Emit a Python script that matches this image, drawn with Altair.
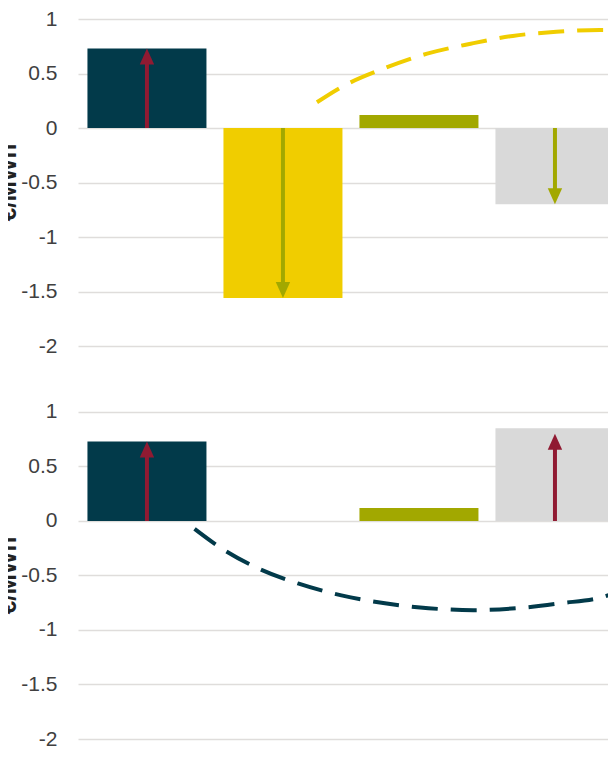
import altair as alt
import pandas as pd

# ---------------- data ----------------
categories = ["A", "B", "C", "D"]
positions = [0, 1, 2, 3]
bar_colors = ["#023a4a", "#f0cd00", "#a2a800", "#d9d9d9"]

top_values = [0.73, -1.56, 0.12, -0.70]
bottom_values = [0.73, 0.0, 0.12, 0.85]

top_arrow_pos = [0, 1, 3]
top_arrow_tip = [0.73, -1.56, -0.70]
top_arrow_color = ["#901a32", "#a2a800", "#a2a800"]

bottom_arrow_pos = [0, 3]
bottom_arrow_tip = [0.73, 0.80]
bottom_arrow_color = ["#901a32", "#901a32"]

top_curve_x = [1.25, 1.44, 1.74, 2.06, 2.38, 2.69, 3.01, 3.33, 3.45]
top_curve_y = [0.236, 0.382, 0.545, 0.682, 0.773, 0.845, 0.882, 0.90, 0.90]

bottom_curve_x = [0.35, 0.54, 0.82, 1.11, 1.43, 1.75, 2.07, 2.40, 2.72, 3.04, 3.37, 3.45]
bottom_curve_y = [-0.073, -0.245, -0.436, -0.573, -0.682, -0.755, -0.80, -0.818, -0.80, -0.755, -0.69, -0.655]

y_ticks = [-2, -1.5, -1, -0.5, 0, 0.5, 1]
y_titles = ["€/MWh", "€/MWh"]

# ---------------- layout (two stacked panels on one shared y scale) ----------------
OFF = 3.6055         # vertical shift of the upper panel, in value units
W, H = 530, 720
xscale = alt.Scale(domain=[-0.507, 3.39], nice=False, zero=False)
yscale = alt.Scale(domain=[-2, 1 + OFF], nice=False, zero=False)

axis_values = y_ticks + [t + OFF for t in y_ticks]

UP = "M0,0 L-0.45,1 L0.45,1 Z"
DOWN = "M0,0 L-0.45,-1 L0.45,-1 Z"

bars_df = pd.DataFrame({
    "cat": categories * 2,
    "pos": positions * 2,
    "value": top_values + bottom_values,
    "color": bar_colors * 2,
    "panel": ["top"] * 4 + ["bottom"] * 4,
})
arrows_df = pd.DataFrame({
    "pos": top_arrow_pos + bottom_arrow_pos,
    "tip": top_arrow_tip + bottom_arrow_tip,
    "color": top_arrow_color + bottom_arrow_color,
    "panel": ["top"] * len(top_arrow_pos) + ["bottom"] * len(bottom_arrow_pos),
})
top_curve_df = pd.DataFrame({"x": top_curve_x, "y": top_curve_y, "panel": "top"})
bottom_curve_df = pd.DataFrame({"x": bottom_curve_x, "y": bottom_curve_y, "panel": "bottom"})
titles_df = pd.DataFrame({"t": y_titles, "y": [-0.5, -0.5], "panel": ["top", "bottom"]})

shift = f"(datum.panel == 'top' ? {OFF} : 0)"

bars = (
    alt.Chart(bars_df)
    .transform_calculate(
        x0="datum.pos - 0.4375",
        x1="datum.pos + 0.4375",
        yv=f"datum.value + {shift}",
        base=shift,
    )
    .mark_rect(clip=True)
    .encode(
        x=alt.X("x0:Q", scale=xscale, axis=None),
        x2="x1:Q",
        y=alt.Y(
            "yv:Q",
            scale=yscale,
            axis=alt.Axis(
                values=axis_values,
                labelExpr=f"(datum.value > 1.3 ? round((datum.value - {OFF}) * 10) / 10 : datum.value) + ''",
                title=None,
            ),
        ),
        y2="base:Q",
        color=alt.Color("color:N", scale=None),
    )
)


def curve(df, col):
    return (
        alt.Chart(df)
        .transform_calculate(yv=f"datum.y + {shift}")
        .mark_line(clip=True, color=col, strokeWidth=4, strokeDash=[26, 13], interpolate="monotone")
        .encode(x=alt.X("x:Q", scale=xscale), y=alt.Y("yv:Q", scale=yscale))
    )


shafts = (
    alt.Chart(arrows_df)
    .transform_calculate(
        start=shift,
        end=f"datum.tip - (datum.tip > 0 ? 0.1 : -0.1) + {shift}",
    )
    .mark_rule(strokeWidth=4)
    .encode(
        x=alt.X("pos:Q", scale=xscale),
        y=alt.Y("start:Q", scale=yscale),
        y2="end:Q",
        color=alt.Color("color:N", scale=None),
    )
)


def heads(cond, shape):
    return (
        alt.Chart(arrows_df)
        .transform_filter(cond)
        .transform_calculate(yt=f"datum.tip + {shift}")
        .mark_point(shape=shape, filled=True, size=1024, opacity=1, strokeWidth=0)
        .encode(
            x=alt.X("pos:Q", scale=xscale),
            y=alt.Y("yt:Q", scale=yscale),
            color=alt.Color("color:N", scale=None),
        )
    )


titles = (
    alt.Chart(titles_df)
    .transform_calculate(yv=f"datum.y + {shift}")
    .mark_text(angle=270, baseline="alphabetic", align="center", font="Liberation Sans",
               fontSize=24, fontWeight="bold", color="#222222")
    .encode(x=alt.value(-62), y=alt.Y("yv:Q", scale=yscale), text="t:N")
)

chart = (
    alt.layer(
        bars,
        curve(top_curve_df, "#f0cd00"),
        curve(bottom_curve_df, "#023a4a"),
        shafts,
        heads("datum.tip > 0", UP),
        heads("datum.tip < 0", DOWN),
        titles,
    )
    .properties(
        width=W,
        height=H,
        autosize=alt.AutoSizeParams(type="none"),
        padding={"left": 70, "top": 11, "right": 0, "bottom": 11},
    )
    .configure_view(stroke=None)
    .configure_axis(
        domain=False,
        ticks=False,
        grid=True,
        gridColor="#dfdddb",
        gridWidth=1.6,
        labelFont="Liberation Sans",
        labelFontSize=21,
        labelColor="#404040",
        labelPadding=21,
    )
)

chart.save("out.html", embed_options={"renderer": "svg", "actions": False})
